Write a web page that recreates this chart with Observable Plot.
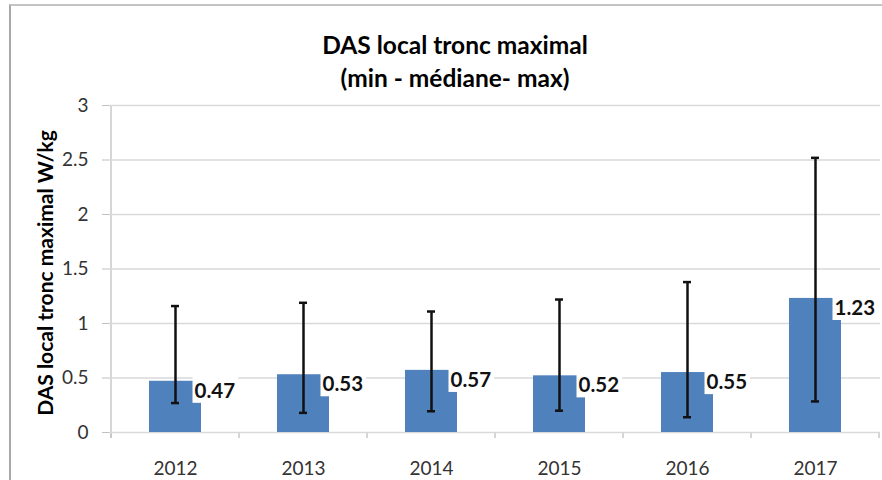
<!DOCTYPE html>
<html><head><meta charset="utf-8">
<script src="https://cdn.jsdelivr.net/npm/d3@7"></script>
<script src="https://cdn.jsdelivr.net/npm/@observablehq/plot@0.6"></script>
<style>
body{margin:0;background:#fff;font-family:Lato, sans-serif;}
#wrap{position:relative;width:882px;height:480px;overflow:hidden;background:#fff;}
#frame{position:absolute;left:9px;top:4px;width:1000px;height:1000px;border-left:2px solid #a8a8a8;border-top:2px solid #c4c4c4;}
#title{position:absolute;left:0;top:28px;width:910px;text-align:center;font-weight:bold;font-size:24.5px;line-height:33px;color:#000;}
#ylabel{position:absolute;left:44px;top:273px;transform:translate(-50%,-50%) rotate(-90deg);white-space:nowrap;font-weight:bold;font-size:21px;color:#000;}
#chart{position:absolute;left:0;top:95px;}
</style></head>
<body>
<div id="wrap">
  <div id="frame"></div>
  <div id="title">DAS local tronc maximal<br>(min - médiane- max)</div>
  <div id="chart"></div>
  <div id="ylabel">DAS local tronc maximal W/kg</div>
</div>
<script>
const years = ["2012", "2013", "2014", "2015", "2016", "2017"];
const medians = [0.47, 0.53, 0.57, 0.52, 0.55, 1.23];
const mins = [0.27, 0.18, 0.195, 0.20, 0.14, 0.285];
const maxs = [1.16, 1.19, 1.11, 1.22, 1.38, 2.52];
const yTicks = [0, 0.5, 1, 1.5, 2, 2.5, 3];

const data = years.map((year, i) => ({year, median: medians[i], min: mins[i], max: maxs[i]}));
const fmt = v => v.toFixed(2);

const plot = Plot.plot({
  width: 882, height: 385,
  marginLeft: 109, marginRight: 2, marginTop: 10, marginBottom: 48,
  style: {fontFamily: "Lato, sans-serif", fontSize: "19px", color: "#333", background: "transparent", overflow: "visible"},
  x: {domain: years, paddingInner: 0.595, paddingOuter: 0.2975},
  y: {domain: [0, 3]},
  marks: [
    Plot.gridY(yTicks, {stroke: "#d9d9d9", strokeOpacity: 1, strokeWidth: 1.3}),
    Plot.axisY(yTicks, {tickSize: 7, tickPadding: 14, stroke: "#c0c0c0", tickFormat: d => String(d), label: null}),
    Plot.axisX({tickSize: 0, tickPadding: 29, label: null}),
    Plot.barY(data, {x: "year", y: "median", fill: "#4f81bd"}),
    Plot.ruleX(data, {x: "year", y1: "min", y2: "max", stroke: "#111", strokeWidth: 2.5}),
    Plot.tickY(data, {x: "year", y: "max", stroke: "#111", strokeWidth: 2.5, insetLeft: 22, insetRight: 22}),
    Plot.tickY(data, {x: "year", y: "min", stroke: "#111", strokeWidth: 2.5, insetLeft: 22, insetRight: 22}),
    Plot.text(data, {x: "year", y: "median", text: d => fmt(d.median), textAnchor: "start", dx: 19, dy: 10,
      fontWeight: "bold", fontSize: 20.5, fill: "#111"})
  ]
});
document.getElementById("chart").appendChild(plot);

// Excel-style category boundary ticks and vertical axis line, from the plot's own scales
const xs = plot.scale("x"), ys = plot.scale("y");
const y0 = ys.apply(0), y3 = ys.apply(3);
const bounds = [];
years.forEach((yr, i) => {
  const c = xs.apply(yr) + xs.bandwidth / 2;
  if (i === 0) bounds.push(c - xs.step / 2);
  bounds.push(c + xs.step / 2);
});
const svg = d3.select(plot);
const g = svg.insert("g", ":first-child").attr("stroke", "#c0c0c0").attr("stroke-width", 1.3);
bounds.forEach(b => g.append("line").attr("x1", b).attr("x2", b).attr("y1", y0).attr("y2", y0 + 6));
g.append("line").attr("x1", bounds[0]).attr("x2", bounds[0]).attr("y1", y3).attr("y2", y0 + 6);

// white boxes behind the value labels
const labelSet = new Set(medians.map(fmt));
Array.from(plot.querySelectorAll("text")).filter(t => labelSet.has(t.textContent)).forEach(t => {
  const bb = t.getBBox();
  const r = document.createElementNS("http://www.w3.org/2000/svg", "rect");
  r.setAttribute("x", bb.x - 2);
  r.setAttribute("y", bb.y - 1);
  r.setAttribute("width", bb.width + 5);
  r.setAttribute("height", bb.height + 2);
  r.setAttribute("fill", "#fff");
  if (t.getAttribute("transform")) r.setAttribute("transform", t.getAttribute("transform"));
  t.parentNode.insertBefore(r, t);
});
</script>
</body></html>
